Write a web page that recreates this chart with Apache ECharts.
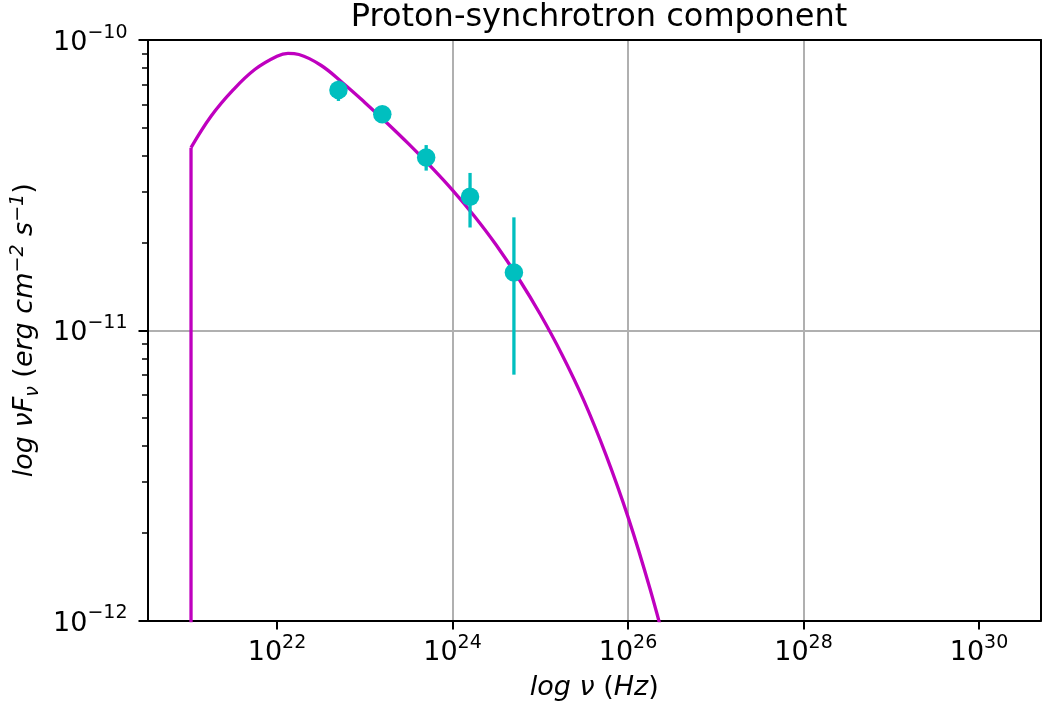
<!DOCTYPE html>
<html>
<head>
<meta charset="utf-8">
<script src="https://cdn.jsdelivr.net/npm/echarts@6/dist/echarts.min.js"></script>
<style>
  html, body { margin: 0; padding: 0; background: #fff; }
  #chart { width: 1048px; height: 710px; }
</style>
</head>
<body>
<div id="chart"></div>
<script>
// ---- data (log10 units) ----
const curveLogNu   = [21.02, 21.02, 21.25, 21.5, 21.75, 22.0, 22.125, 22.25, 22.5, 22.75, 23.0, 23.25, 23.5, 23.75, 24.0, 24.25, 24.5, 24.75, 25.0, 25.25, 25.5, 25.75, 26.0, 26.25, 26.5];
const curveLogFlux = [-14, -10.371, -10.262, -10.172, -10.101, -10.056, -10.046, -10.050, -10.087, -10.148, -10.215, -10.285, -10.358, -10.435, -10.517, -10.607, -10.707, -10.820, -10.945, -11.085, -11.244, -11.430, -11.643, -11.890, -12.17];

const pointLogNu   = [22.70, 23.20, 23.70, 24.20, 24.70];
const pointLogFlux = [-10.172, -10.256, -10.405, -10.540, -10.801];
const pointLogLow  = [-10.210, -10.280, -10.450, -10.646, -11.153];
const pointLogHigh = [-10.140, -10.235, -10.362, -10.458, -10.611];

const xTickExps = [22, 24, 26, 28, 30];
const yTickExps = [-12, -11, -10];
const yMinorMantissas = [2, 3, 4, 5, 6, 7, 8, 9];

const titleText = 'Proton-synchrotron component';

// ---- build ----
const X_MIN = 20.524, X_MAX = 30.707;
const Y_MIN = -12, Y_MAX = -10;

const yMinorVals = [];
for (let e = Y_MIN; e < Y_MAX; e++) {
  yMinorMantissas.forEach(m => yMinorVals.push(e + Math.log10(m)));
}

const curveData = curveLogNu.map((x, i) => [x, curveLogFlux[i]]);
const edgeData = curveData.slice(0, 2);
const smoothData = curveData.slice(1);
const pointData = pointLogNu.map((x, i) => [x, pointLogFlux[i]]);
const errData = pointLogNu.map((x, i) => [x, pointLogLow[i], pointLogHigh[i]]);

const FONT = 'DejaVu Sans';
const MAG = '#bf00bf';
const CYAN = '#00bfbf';

const tickRich = {
  b: { fontFamily: FONT, fontSize: 27, color: '#000', lineHeight: 33, verticalAlign: 'bottom' },
  s: { fontFamily: FONT, fontSize: 19, color: '#000', lineHeight: 19, verticalAlign: 'top' }
};
const fmtExp = v => {
  const n = Math.round(v);
  const s = n < 0 ? '\u2212' + Math.abs(n) : String(n);
  return '{b|10}{s|' + s + '}';
};

const nameRich = {
  i: { fontFamily: FONT, fontStyle: 'italic', fontSize: 27, color: '#000', lineHeight: 34 },
  u: { fontFamily: FONT, fontStyle: 'normal', fontSize: 27, color: '#000', lineHeight: 34 },
  sub: { fontFamily: FONT, fontStyle: 'italic', fontSize: 19, color: '#000', lineHeight: 19, verticalAlign: 'bottom' },
  sup: { fontFamily: FONT, fontStyle: 'italic', fontSize: 19, color: '#000', lineHeight: 19, verticalAlign: 'top' }
};

const chart = echarts.init(document.getElementById('chart'), null, { renderer: 'canvas' });
chart.setOption({
  animation: false,
  backgroundColor: '#fff',
  title: {
    text: titleText,
    left: 594, top: -3, textAlign: 'center',
    textStyle: { fontFamily: FONT, fontSize: 32, fontWeight: 'normal', color: '#000' }
  },
  grid: { left: 147.5, right: 7, top: 40, bottom: 89.5 },
  xAxis: [
    {
      type: 'value', min: X_MIN, max: X_MAX, position: 'bottom',
      name: '{i|log \u03bd }{u|(}{i|Hz}{u|)}', nameLocation: 'middle', nameGap: 50,
      nameTextStyle: { rich: nameRich },
      axisLine: { show: true, onZero: false, lineStyle: { color: '#000', width: 2 } },
      axisTick: { show: true, length: 9, lineStyle: { color: '#000', width: 2 }, customValues: xTickExps },
      axisLabel: { margin: 13, customValues: xTickExps, formatter: fmtExp, rich: tickRich },
      splitLine: { show: true, showMinLine: false, showMaxLine: false, lineStyle: { color: '#b0b0b0', width: 2 } }
    },
    {
      type: 'value', min: X_MIN, max: X_MAX, position: 'top',
      axisLine: { show: true, onZero: false, lineStyle: { color: '#000', width: 2 } },
      axisTick: { show: false }, axisLabel: { show: false }, splitLine: { show: false }
    }
  ],
  yAxis: [
    {
      type: 'value', min: Y_MIN, max: Y_MAX, interval: 1, position: 'left',
      name: '{i|log \u03bdF}{sub|\u03bd}{i| }{u|(}{i|erg cm}{sup|\u22122}{i| s}{sup|\u22121}{u|)}',
      nameLocation: 'middle', nameGap: 105, nameRotate: 90,
      nameTextStyle: { rich: nameRich },
      axisLine: { show: true, onZero: false, lineStyle: { color: '#000', width: 2 } },
      axisTick: { show: true, length: 9, lineStyle: { color: '#000', width: 2 }, customValues: yTickExps },
      axisLabel: { margin: 20, customValues: yTickExps, formatter: fmtExp, rich: tickRich },
      splitLine: { show: true, showMinLine: false, showMaxLine: false, lineStyle: { color: '#b0b0b0', width: 2 } }
    },
    {
      type: 'value', min: Y_MIN, max: Y_MAX, position: 'left',
      axisLine: { show: false },
      axisTick: { show: true, length: 5.5, lineStyle: { color: '#000', width: 1.5 }, customValues: yMinorVals },
      axisLabel: { show: false }, splitLine: { show: false }
    },
    {
      type: 'value', min: Y_MIN, max: Y_MAX, position: 'right',
      axisLine: { show: true, onZero: false, lineStyle: { color: '#000', width: 2 } },
      axisTick: { show: false }, axisLabel: { show: false }, splitLine: { show: false }
    }
  ],
  series: [
    {
      type: 'line', data: edgeData, xAxisIndex: 0, yAxisIndex: 0,
      showSymbol: false, symbol: 'none', clip: true,
      lineStyle: { color: MAG, width: 3.3 }, z: 3
    },
    {
      type: 'line', data: smoothData, xAxisIndex: 0, yAxisIndex: 0,
      showSymbol: false, symbol: 'none', smooth: 0.4, clip: true,
      lineStyle: { color: MAG, width: 3.3 }, z: 3
    },
    {
      type: 'custom', xAxisIndex: 0, yAxisIndex: 0, data: errData, z: 4,
      renderItem: (params, api) => {
        const x = api.value(0);
        const p1 = api.coord([x, api.value(1)]);
        const p2 = api.coord([x, api.value(2)]);
        return {
          type: 'line',
          shape: { x1: p1[0], y1: p1[1], x2: p2[0], y2: p2[1] },
          style: { stroke: CYAN, lineWidth: 3.3 }
        };
      }
    },
    {
      type: 'scatter', data: pointData, xAxisIndex: 0, yAxisIndex: 0,
      symbol: 'circle', symbolSize: 18.5, itemStyle: { color: CYAN, opacity: 1 }, z: 5
    }
  ]
});
</script>
</body>
</html>
